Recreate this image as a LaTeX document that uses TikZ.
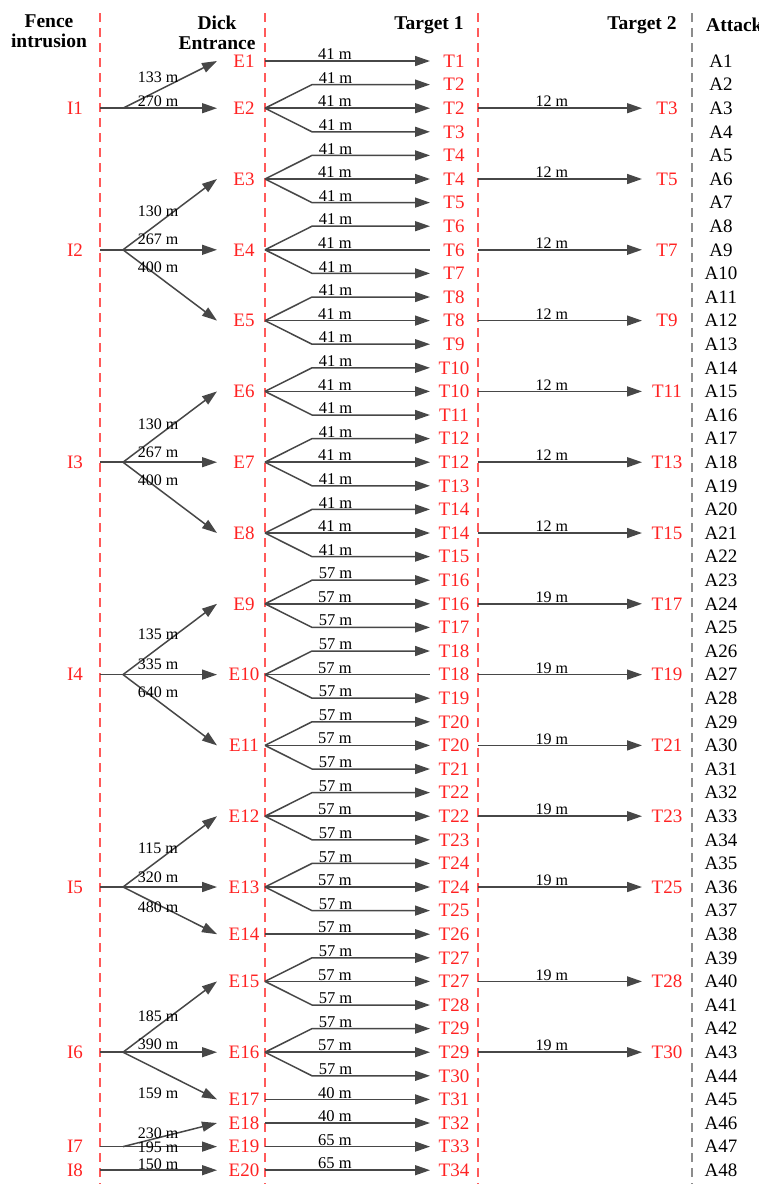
\documentclass[tikz,border=0pt]{standalone}
\usepackage{fontspec}
\setmainfont{Liberation Serif}
\usetikzlibrary{arrows.meta,calc}
\definecolor{lblred}{HTML}{FF2222}
\definecolor{dashred}{HTML}{FF5A5A}
\definecolor{conngray}{HTML}{474747}
\definecolor{dashgray}{HTML}{8C8C8C}
\begin{document}
\begin{tikzpicture}[x=1pt,y=-1pt,
  sep/.style={dashred, line width=1.5pt, dash pattern=on 9pt off 6pt},
  sepgray/.style={dashgray, line width=1.5pt, dash pattern=on 9pt off 6pt},
  conn/.style={conngray, line width=1.5pt, -{Triangle[length=15pt,width=10pt]}},
  connplain/.style={conngray, line width=1.5pt},
  lab/.style={text=lblred, font=\fontsize{19}{20}\selectfont, inner sep=0pt},
  alab/.style={text=black, font=\fontsize{19}{20}\selectfont, inner sep=0pt},
  head/.style={font=\fontsize{19.5}{20}\selectfont\bfseries, inner sep=0pt, align=center},
  dist/.style={font=\fontsize{16.5}{17}\selectfont, inner sep=0.5pt, anchor=south, text=black},
  dsmall/.style={font=\fontsize{16}{17}\selectfont, inner sep=0.5pt, anchor=south, text=black},
  ielab/.style={font=\fontsize{16}{17}\selectfont, inner sep=0pt, text=black},
]
\useasboundingbox (0,0) rectangle (759,1184);
\fill[white] (0,0) rectangle (759,1184);

% headers
\node[head] (h1) at (49,31) {Fence\\intrusion};
\node[head] (h2) at (217,33) {Dick\\Entrance};
\node[head] (h3) at (429,25) {Target 1};
\node[head] (h4) at (642,25) {Target 2};
\node[head, anchor=west] (h5) at (706,25) {Attack};

% separators
\coordinate (s1t) at (100,13); \coordinate (s1b) at (100,1184);
\coordinate (s2t) at (265,13); \coordinate (s2b) at (265,1184);
\coordinate (s3t) at (478,13); \coordinate (s3b) at (478,1184);
\coordinate (s4t) at (692,13); \coordinate (s4b) at (692,1184);
\draw[sep] (s1t) -- (s1b);
\draw[sep] (s2t) -- (s2b);
\draw[sep] (s3t) -- (s3b);
\draw[sepgray] (s4t) -- (s4b);

% Target 1 column and attack column
\foreach \tn [count=\i] in {1,2,2,3,4,4,5,6,6,7,8,8,9,10,10,11,12,12,13,14,14,15,16,16,17,18,18,19,20,20,21,22,22,23,24,24,25,26,27,27,28,29,29,30,31,32,33,34} {
  \pgfmathsetmacro\yy{61+(\i-1)*23.6}
  \node[lab] (T\i) at (454,\yy) {T\tn};
  \coordinate (Tin\i) at (430,\yy);
  \coordinate (Tb\i) at (312,\yy);
  \coordinate (To\i) at (478,\yy);
  \node[alab] (A\i) at (721,\yy) {A\i};
}

% Entrances
\foreach \ee/\rr in {1/1,2/3,3/6,4/9,5/12,6/15,7/18,8/21,9/24,10/27,11/30,12/33,13/36,14/38,15/40,16/43,17/45,18/46,19/47,20/48} {
  \pgfmathsetmacro\yy{61+(\rr-1)*23.6}
  \node[lab] (E\ee) at (244,\yy) {E\ee};
  \coordinate (Ei\ee) at (217,\yy);
  \coordinate (Eo\ee) at (265,\yy);
}

% Intrusions
\foreach \kk/\rr in {1/3,2/9,3/18,4/27,5/36,6/43,7/47,8/48} {
  \pgfmathsetmacro\yy{61+(\rr-1)*23.6}
  \node[lab] (I\kk) at (75,\yy) {I\kk};
  \coordinate (Io\kk) at (100,\yy);
  \coordinate (Ib\kk) at (123,\yy);
}

% Target 2
\foreach \tn/\rr/\dd in {3/3/12,5/6/12,7/9/12,9/12/12,11/15/12,13/18/12,15/21/12,17/24/19,19/27/19,21/30/19,23/33/19,25/36/19,28/40/19,30/43/19} {
  \pgfmathsetmacro\yy{61+(\rr-1)*23.6}
  \node[lab] (U\rr) at (667,\yy) {T\tn};
  \coordinate (Ui\rr) at (642,\yy);
  \draw[conn] (To\rr) -- node[dsmall,pos=0.45]{\dd{} m} (Ui\rr);
}

% fans Entrance -> Target 1
\foreach \ee/\rr/\dd/\ss in {2/3/41/conn,3/6/41/conn,4/9/41/connplain,5/12/41/conn,6/15/41/conn,7/18/41/conn,8/21/41/conn,9/24/57/conn,10/27/57/connplain,11/30/57/conn,12/33/57/conn,13/36/57/conn,15/40/57/conn,16/43/57/conn} {
  \pgfmathtruncatemacro\rup{\rr-1}
  \pgfmathtruncatemacro\rdn{\rr+1}
  \draw[conn] (Eo\ee) -- (Tb\rup) -- node[dist,pos=0.2]{\dd{} m} (Tin\rup);
  \draw[\ss] (Eo\ee) -- node[dist,pos=0.424]{\dd{} m} (Tin\rr);
  \draw[conn] (Eo\ee) -- (Tb\rdn) -- node[dist,pos=0.2]{\dd{} m} (Tin\rdn);
}
\foreach \ee/\rr/\dd in {1/1/41,14/38/57,17/45/40,18/46/40,19/47/65,20/48/65} {
  \draw[conn] (Eo\ee) -- node[dist,pos=0.424]{\dd{} m} (Tin\rr);
}

% Intrusion -> Entrance
\foreach \kk in {1,...,7} {
  \draw[connplain] (Io\kk) -- (Ib\kk);
}
\foreach \kk/\ee/\dy/\dd in {1/1/-31/133, 1/2/-7/270, 2/3/-39/130, 2/4/-11/267, 2/5/17/400, 3/6/-38/130, 3/7/-10/267, 3/8/18/400, 4/9/-40/135, 4/10/-10/335, 4/11/18/640, 5/12/-39/115, 5/13/-10/320, 5/14/20/480, 6/15/-36/185, 6/16/-8/390, 6/17/41/159, 7/18/-13/230, 7/19/1/195} {
  \draw[conn] (Ib\kk) -- (Ei\ee);
  \node[ielab] (L\ee) at ($(Ib\kk)+(35,\dy)$) {\dd{} m};
}
\draw[conn] (Io8) -- (Ei20);
\node[ielab] (L20) at ($(Io8)+(58,-6)$) {150 m};
\end{tikzpicture}
\end{document}
